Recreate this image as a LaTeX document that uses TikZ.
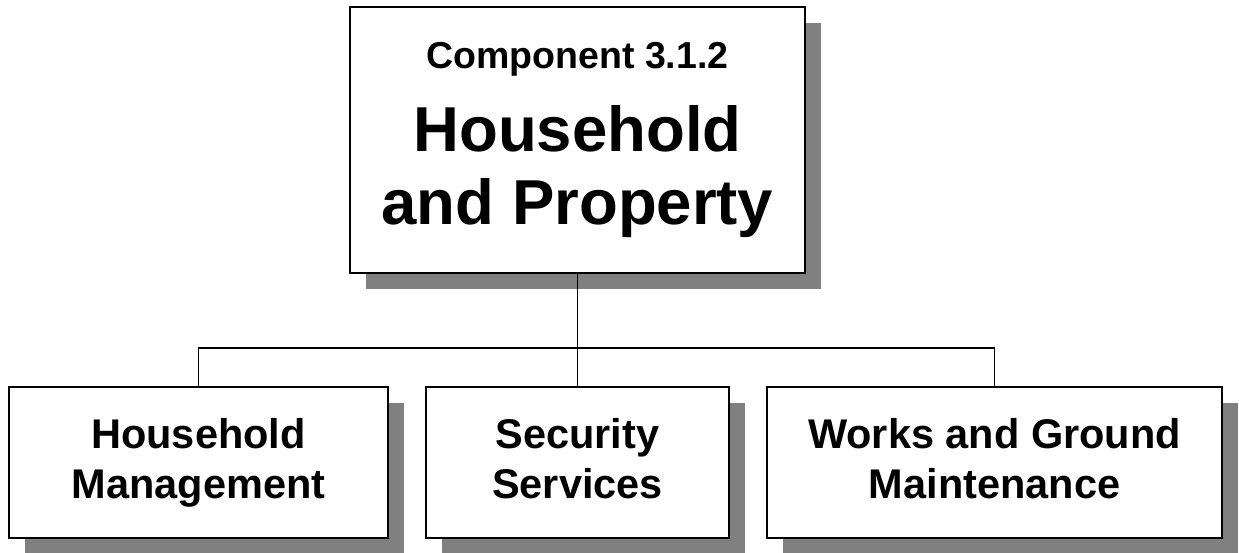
\documentclass[tikz,border=0pt]{standalone}
\usepackage{fontspec}
\setmainfont{Liberation Sans}
\usetikzlibrary{shadows}

\begin{document}
\begin{tikzpicture}[x=1pt,y=-1pt,
  box/.style={draw,line width=2pt,fill=white,align=center,inner sep=0pt,
    font=\bfseries\fontsize{41.5}{50}\selectfont,text depth=9pt,
    drop shadow={shadow xshift=16pt,shadow yshift=-16pt,fill=black!50,opacity=1}},
  topbox/.style={box,text depth=,font=\bfseries\fontsize{63.5}{73}\selectfont},
  link/.style={line width=1.5pt}]

\useasboundingbox (0,0) rectangle (1239,552);

% top one
\node[topbox,minimum width=455pt,minimum height=266pt] (comp) at (577.5,140)
  {{\fontsize{37.5}{44}\selectfont Component 3.1.2}\\[10pt]Household\\and Property};

% bottom ones
\node[box,minimum width=379pt,minimum height=151pt] (house) at (198.5,462.5)
  {Household\\Management};
\node[box,minimum width=303pt,minimum height=151pt] (secur) at (577.5,462.5)
  {Security\\Services};
\node[box,minimum width=455pt,minimum height=151pt] (works) at (994.5,462.5)
  {Works and Ground\\Maintenance};

% connectors
\coordinate (split) at (577.5,348);
\draw[link] (comp.south) -- (split);
\draw[link] (house.north) |- (split) -| (works.north);
\draw[link] (split) -- (secur.north);

\end{tikzpicture}
\end{document}
